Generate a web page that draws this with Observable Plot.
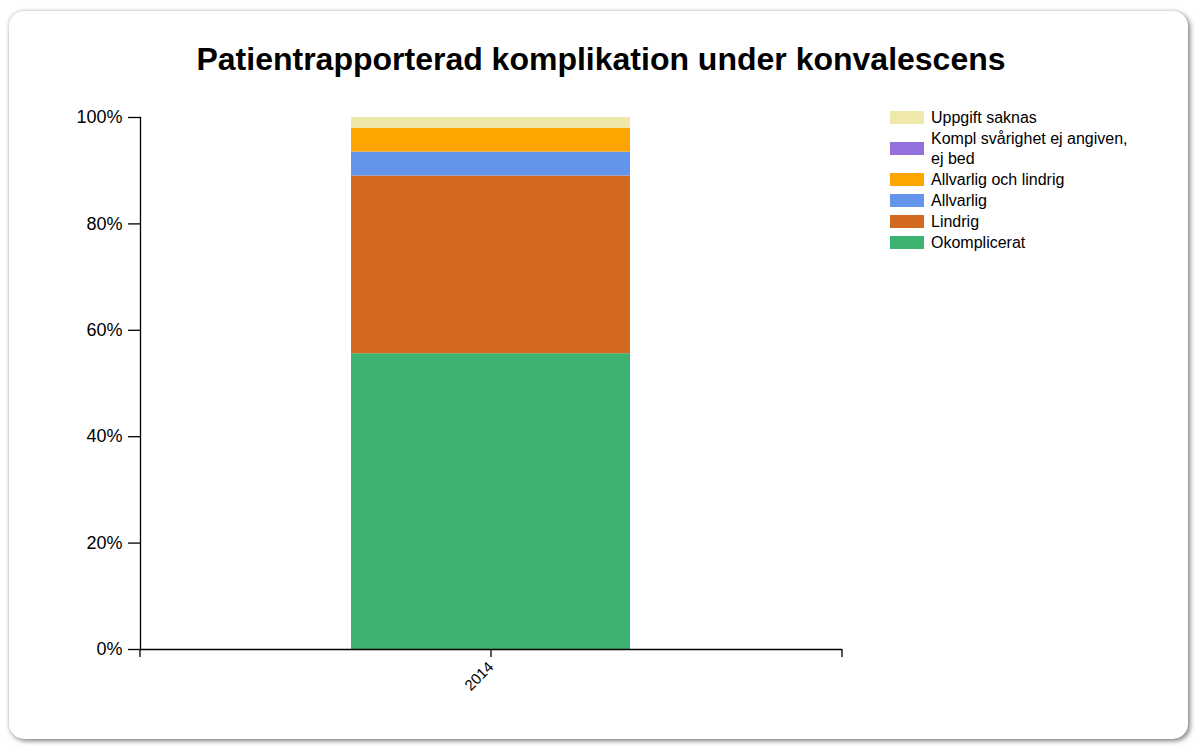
<!DOCTYPE html>
<html>
<head>
<meta charset="utf-8">
<script src="https://cdn.jsdelivr.net/npm/d3@7"></script>
<script src="https://cdn.jsdelivr.net/npm/@observablehq/plot@0.6"></script>
<style>
  body { margin: 0; background: #fff; font-family: "Liberation Sans", Arial, sans-serif; }
  #card { position: absolute; left: 9px; top: 11px; width: 1179px; height: 728px; border-radius: 15px; background: #fff;
          box-shadow: 2px 2px 5px rgba(0,0,0,0.5), -1px -1px 3px rgba(0,0,0,0.10); }
  #title { position: absolute; left: 0; top: 43px; width: 1202px; text-align: center; font-size: 32px; line-height: 1; font-weight: bold; color: #000; }
  #chart { position: absolute; left: 0; top: 100px; }
  #legend { position: absolute; left: 890px; top: 107px; font-size: 16px; color: #000; }
  .row { display: flex; align-items: center; padding: 0.5px 0; }
  .sw { width: 34px; height: 13px; margin-right: 7px; flex: none; }
  .lab { width: 205px; line-height: 20px; }
</style>
</head>
<body>
<div id="card"></div>
<div id="title">Patientrapporterad komplikation under konvalescens</div>
<div id="chart"></div>
<div id="legend"></div>
<script>
const years = ["2014"];
const categories = ["Okomplicerat", "Lindrig", "Allvarlig", "Allvarlig och lindrig", "Kompl svårighet ej angiven, ej bed", "Uppgift saknas"];
const values2014 = [55.6, 33.4, 4.5, 4.5, 0, 2.0];
const colors = ["#3CB371", "#D2691E", "#6495ED", "#FFA500", "#9370DB", "#EEE8AA"];
const yTicks = [0, 20, 40, 60, 80, 100];

const data = categories.map((c, i) => ({year: years[0], cat: c, value: values2014[i]}));

const plot = Plot.plot({
  width: 880,
  height: 620,
  marginLeft: 140,
  marginRight: 38,
  marginTop: 17,
  marginBottom: 71,
  style: {fontFamily: '"Liberation Sans", Arial, sans-serif', color: "#000", background: "transparent"},
  x: {domain: years, padding: 0.43, label: null},
  y: {domain: [0, 100], label: null},
  color: {domain: categories, range: colors},
  marks: [
    Plot.barY(data, {x: "year", y: "value", fill: "cat", order: null}),
    Plot.axisY({ticks: yTicks, tickFormat: d => d + "%", tickSize: 12, tickPadding: 6, fontSize: 18, label: null, stroke: "#000", strokeWidth: 1.3}),
    Plot.axisX({tickSize: 8, tickPadding: 7, tickRotate: -45, fontSize: 15, label: null, stroke: "#000", strokeWidth: 1.3}),
    Plot.frame({anchor: "left", stroke: "#000", strokeWidth: 1.3}),
    Plot.ruleY([0], {stroke: "#000", strokeWidth: 1.3})
  ]
});
document.getElementById("chart").appendChild(plot);

// outer end ticks of the x axis
const xr = plot.scale("x").range;
const yr = plot.scale("y").range;
d3.select(plot).append("path")
  .attr("d", `M${xr[0]},${yr[0] + 8}V${yr[0]}M${xr[1]},${yr[0]}V${yr[0] + 8}`)
  .attr("stroke", "#000").attr("stroke-width", 1.3).attr("fill", "none");

const legend = d3.select("#legend");
categories.slice().reverse().forEach((c, k) => {
  const i = categories.length - 1 - k;
  const row = legend.append("div").attr("class", "row");
  row.append("div").attr("class", "sw").style("background", colors[i]);
  row.append("div").attr("class", "lab").text(c);
});
</script>
</body>
</html>
